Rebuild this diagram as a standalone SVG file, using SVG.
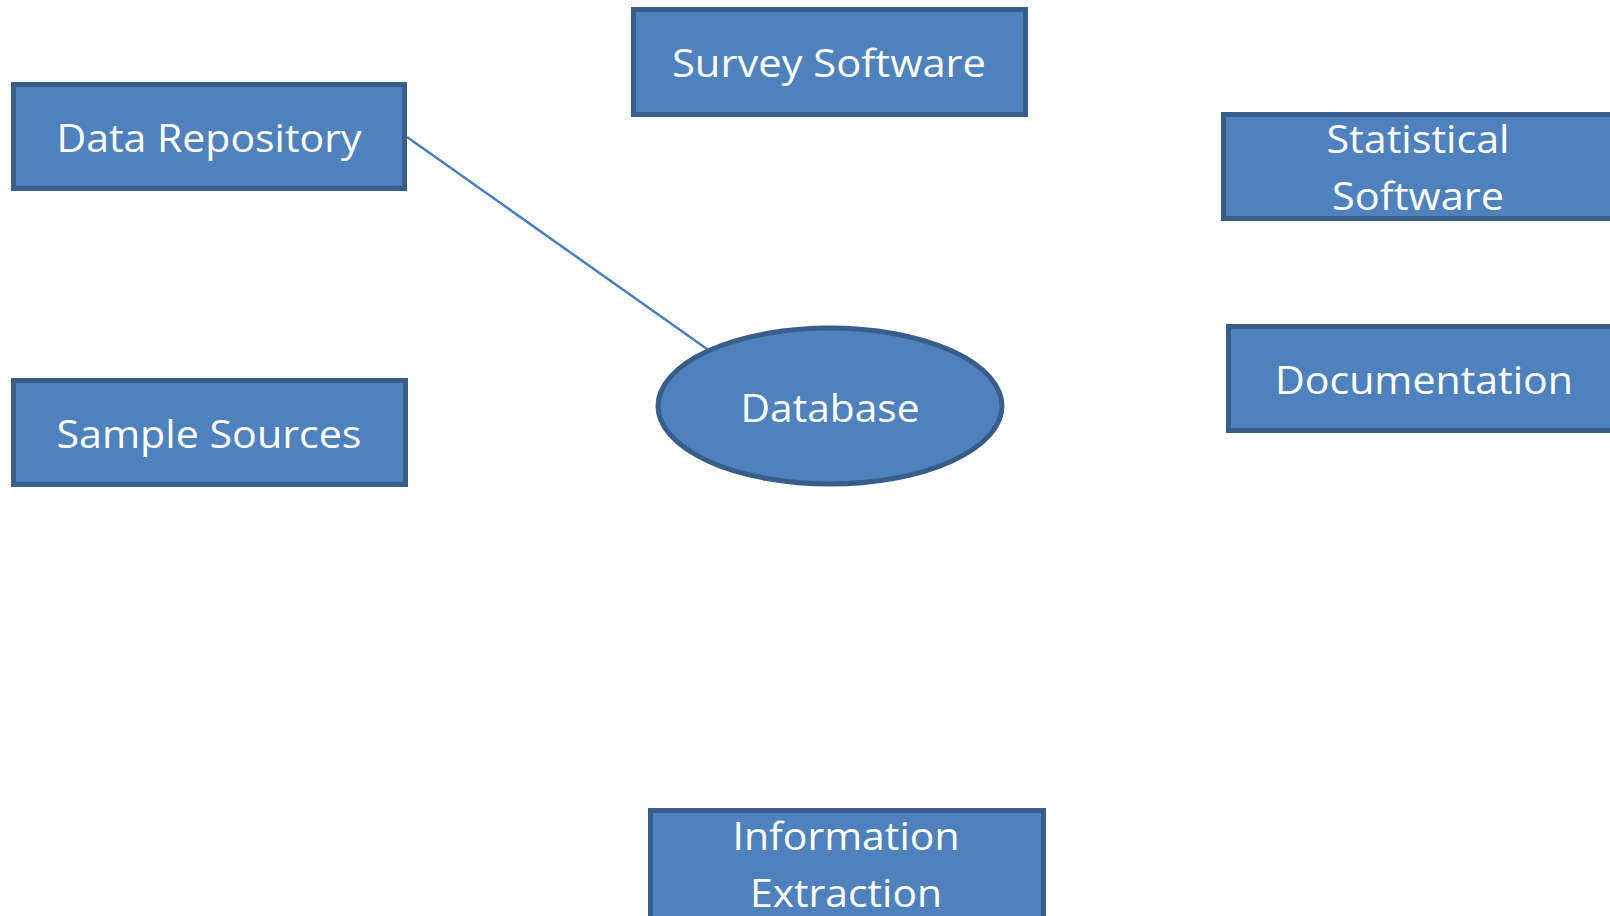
<svg xmlns="http://www.w3.org/2000/svg" width="1610" height="916" viewBox="0 0 1610 916">
<style>
.box{fill:#4F81BD;stroke:#385D8A;stroke-width:5}
.lbl{fill:#FFFFFF;font-family:"Open Sans","Noto Sans","Liberation Sans",sans-serif;font-size:39px;text-anchor:middle}
.conn{stroke:#4A7EBB;stroke-width:2.5;fill:none}
</style>
<rect width="1610" height="916" fill="#FFFFFF"/>
<g id="connectors">
<line class="conn" x1="407" y1="137" x2="707" y2="349"/>
</g>
<g id="data-repository">
<rect class="box" x="13.5" y="84.5" width="391" height="104"/>
<text class="lbl" x="209" y="152" textLength="305" lengthAdjust="spacingAndGlyphs">Data Repository</text>
</g>
<g id="survey-software">
<rect class="box" x="633.5" y="9.5" width="392" height="105"/>
<text class="lbl" x="829" y="77" textLength="314" lengthAdjust="spacingAndGlyphs">Survey Software</text>
</g>
<g id="statistical-software">
<rect class="box" x="1223.5" y="114.5" width="420" height="104"/>
<text class="lbl" x="1418" y="153" textLength="183" lengthAdjust="spacingAndGlyphs">Statistical</text>
<text class="lbl" x="1418" y="210" textLength="172" lengthAdjust="spacingAndGlyphs">Software</text>
</g>
<g id="documentation">
<rect class="box" x="1228.5" y="326.5" width="420" height="104"/>
<text class="lbl" x="1424" y="394" textLength="298" lengthAdjust="spacingAndGlyphs">Documentation</text>
</g>
<g id="sample-sources">
<rect class="box" x="13.5" y="380.5" width="392" height="104"/>
<text class="lbl" x="209" y="448" textLength="305" lengthAdjust="spacingAndGlyphs">Sample Sources</text>
</g>
<g id="database">
<ellipse class="box" cx="830" cy="406" rx="172" ry="78"/>
<text class="lbl" x="830" y="422" textLength="179" lengthAdjust="spacingAndGlyphs">Database</text>
</g>
<g id="information-extraction">
<rect class="box" x="650.5" y="810.5" width="393" height="108"/>
<text class="lbl" x="846" y="850" textLength="227" lengthAdjust="spacingAndGlyphs">Information</text>
<text class="lbl" x="846" y="907" textLength="192" lengthAdjust="spacingAndGlyphs">Extraction</text>
</g>
</svg>
